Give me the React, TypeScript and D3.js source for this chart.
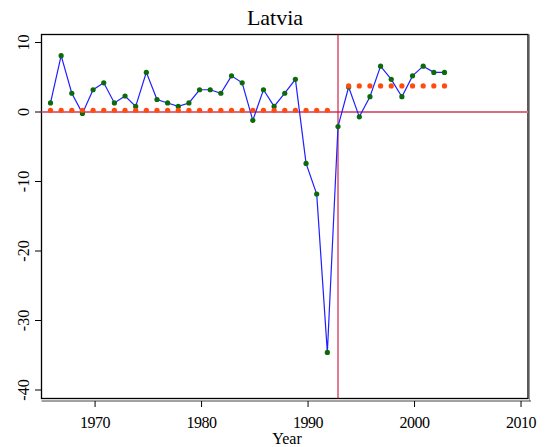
import React from "react";
import * as d3 from "d3";

const years: number[] = [
  1966, 1967, 1968, 1969, 1970, 1971, 1972, 1973, 1974, 1975,
  1976, 1977, 1978, 1979, 1980, 1981, 1982, 1983, 1984, 1985,
  1986, 1987, 1988, 1989, 1990, 1991, 1992, 1993, 1994, 1995,
  1996, 1997, 1998, 1999, 2000, 2001, 2002, 2003,
];
const growth: number[] = [
  1.3, 8.1, 2.7, -0.2, 3.2, 4.2, 1.3, 2.3, 0.8, 5.7,
  1.8, 1.3, 0.8, 1.3, 3.2, 3.2, 2.7, 5.2, 4.2, -1.2,
  3.2, 0.8, 2.7, 4.7, -7.4, -11.8, -34.6, -2.1, 3.6, -0.7,
  2.2, 6.6, 4.7, 2.2, 5.2, 6.6, 5.7, 5.7,
];
const preYears: number[] = d3.range(1966, 1993);
const preLevel = 0.25;
const postYears: number[] = d3.range(1994, 2004);
const postLevel = 3.75;
const breakYear = 1993;
const xTicks: number[] = [1970, 1980, 1990, 2000, 2010];
const yTicks: number[] = [10, 0, -10, -20, -30, -40];
const title = "Latvia";
const xLabel = "Year";

export default function App() {
  const W = 548, H = 447;
  const left = 41.5, right = 528, top = 34.5, bottom = 398.5;
  const x = d3.scaleLinear().domain([1966, 1993]).range([50.5, 338]);
  const y = d3.scaleLinear().domain([0, -40]).range([112, 390]);
  const line = d3.line<number>().x((_, i) => x(years[i])).y((d) => y(d));
  const font = "'Liberation Serif', 'Times New Roman', serif";
  const tickShift = 2;
  return (
    <svg width={W} height={H} style={{ position: "absolute", left: 0, top: 0, background: "#fff" }}>
      <rect x={0} y={0} width={W} height={H} fill="#fff" />
      <text x={275} y={25} textAnchor="middle" fontFamily={font} fontSize={22} fill="#000">{title}</text>
      {/* plot box */}
      <rect x={left} y={top} width={right - left} height={bottom - top} fill="#fff" stroke="#000" strokeWidth={1.3} />
      <line x1={529.5} x2={529.5} y1={top} y2={401} stroke="#999" strokeWidth={1} />
      <line x1={left} x2={531} y1={401} y2={401} stroke="#444" strokeWidth={1} />
      {/* zero line */}
      <line x1={left} x2={right} y1={y(0)} y2={y(0)} stroke="#dc6a82" strokeWidth={1.8} />
      {/* vertical break line */}
      <line x1={x(breakYear)} x2={x(breakYear)} y1={top} y2={bottom} stroke="#c8103c" strokeWidth={1.1} />
      {/* series */}
      <path d={line(growth) || ""} fill="none" stroke="#1f1fff" strokeWidth={1.2} />
      {growth.map((v, i) => (
        <circle key={"g" + i} cx={x(years[i])} cy={y(v)} r={2.6} fill="#0b6b0b" />
      ))}
      {preYears.map((yr) => (
        <circle key={"p" + yr} cx={x(yr)} cy={y(preLevel)} r={2.6} fill="#ff4a10" />
      ))}
      {postYears.map((yr) => (
        <circle key={"q" + yr} cx={x(yr)} cy={y(postLevel)} r={2.6} fill="#ff4a10" />
      ))}
      {/* y axis */}
      {yTicks.map((t) => (
        <g key={"yt" + t}>
          <line x1={35} x2={left} y1={y(t)} y2={y(t)} stroke="#000" strokeWidth={1} />
          <text transform={`translate(29,${y(t)}) rotate(-90)`} textAnchor="middle" fontFamily={font} fontSize={16} fill="#000">{t}</text>
        </g>
      ))}
      {/* x axis */}
      {xTicks.map((t) => (
        <g key={"xt" + t}>
          <line x1={x(t) + tickShift} x2={x(t) + tickShift} y1={401} y2={407} stroke="#000" strokeWidth={1} />
          <text x={x(t) + tickShift} y={428} textAnchor="middle" fontFamily={font} fontSize={16} letterSpacing={-0.5} fill="#000">{t}</text>
        </g>
      ))}
      <text x={287} y={444} textAnchor="middle" fontFamily={font} fontSize={16} fill="#000">{xLabel}</text>
    </svg>
  );
}
